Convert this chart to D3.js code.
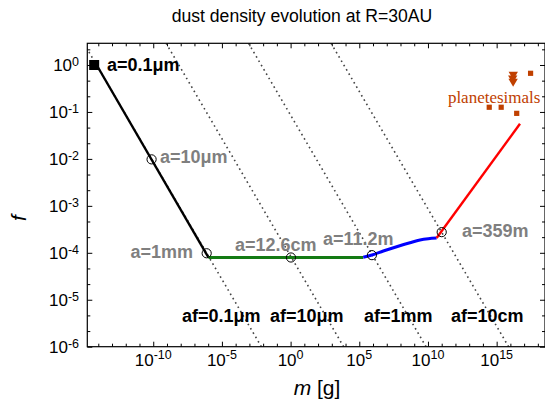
<!DOCTYPE html>
<html><head><meta charset="utf-8">
<script src="https://cdn.jsdelivr.net/npm/d3@7"></script>
<style>body{margin:0;background:#fff} svg{display:block} text{font-family:"Liberation Sans",Arial,Helvetica,sans-serif}</style>
</head><body><svg id="c" width="545" height="409"></svg>
<script>
// ---------- data (log10 values) ----------
const titleText = "dust density evolution at R=30AU";
const xTickExps = [-10, -5, 0, 5, 10, 15];
const yTickExps = [0, -1, -2, -3, -4, -5, -6];
const blackLogM = [-14.12, -5.98];
const blackLogF = [0, -4.10];
const greenLogM = [-5.98, 5.29];
const greenLogF = [-4.10, -4.10];
const blueLogM = [5.29, 5.92, 6.75, 7.72, 8.69, 9.42, 10.02, 10.63];
const blueLogF = [-4.096, -4.047, -3.962, -3.870, -3.785, -3.727, -3.700, -3.685];
const redLogM = [10.63, 16.70];
const redLogF = [-3.685, -1.252];
const startLogM = -14.30, startLogF = 0;
const circleLogM = [-10.12, -6.11, 0.025, 5.92, 11.0];
const circleLogF = [-2.01, -4.01, -4.10, -4.05, -3.56];
const afLogMTop = [-15.05, -9.06, -3.06, 2.95];
const afLogMBottom = [-2.13, 3.86, 9.86, 15.87];
const afLogFTop = 0.462, afLogFBottom = -6;
const planSqLogM = [17.47, 14.46, 15.33, 16.46];
const planSqLogF = [-0.177, -0.90, -0.90, -1.03];
const planTriLogM = [16.21, 16.17, 16.20];
const planTriLogF = [-0.20, -0.28, -0.35];
// labels: text, logM, logF, anchor, colour
const labelText = ["a=0.1μm", "a=10μm", "a=1mm", "a=12.6cm", "a=11.2m", "a=359m", "af=0.1μm", "af=10μm", "af=1mm", "af=10cm"];
const labelLogM = [-13.37, -9.51, -7.11, -4.05, 2.35, 12.47, -7.91, -1.50, 5.34, 11.67];
const labelLogF = [-0.128, -2.087, -4.11, -3.96, -3.83, -3.66, -5.47, -5.47, -5.47, -5.47];
const labelAnchor = ["start", "start", "end", "start", "start", "start", "start", "start", "start", "start"];
const labelColor = ["#000", "#7f7f7f", "#7f7f7f", "#7f7f7f", "#7f7f7f", "#7f7f7f", "#000", "#000", "#000", "#000"];
const planLabel = "planetesimals", planLabelLogM = 11.45, planLabelLogF = -0.81;

// ---------- layout ----------
const L = 87.3, R = 545, T = 43.3, B = 346.7;
const svg = d3.select("#c");
const x = d3.scaleLog().domain([Math.pow(10, -14.8), Math.pow(10, 18.52)]).range([L, R]);
const y = d3.scaleLog().domain([1e-6, Math.pow(10, 0.462)]).range([B, T]);
const P = v => Math.pow(10, v);

svg.append("defs").append("clipPath").attr("id", "clip")
  .append("rect").attr("x", L).attr("y", T).attr("width", R - L).attr("height", B - T);

// title
svg.append("text").attr("x", 302).attr("y", 22).attr("text-anchor", "middle")
  .attr("font-size", 17.6).text(titleText);

// ticks via d3 axes
const xMajor = xTickExps.map(P);
const xMinor = d3.range(-14, 19).filter(e => !xTickExps.includes(e)).map(P);
const yMajor = yTickExps.map(P);
const yMinor = [];
yTickExps.forEach(e => { [1/3, 2/3].forEach(f => { if (e + f <= 0.462 && e + f >= -6) yMinor.push(P(e + f)); }); });

function tickAxis(axisFn, scale, vals, size, tr) {
  const g = svg.append("g").attr("transform", tr)
    .call(axisFn(scale).tickValues(vals).tickSize(size).tickFormat(""));
  g.select(".domain").remove();
  g.selectAll("line").attr("stroke", "#000").attr("stroke-width", 1);
}
tickAxis(d3.axisTop, x, xMajor, 5, `translate(0,${B})`);
tickAxis(d3.axisTop, x, xMinor, 3, `translate(0,${B})`);
tickAxis(d3.axisBottom, x, xMajor, 5, `translate(0,${T})`);
tickAxis(d3.axisBottom, x, xMinor, 3, `translate(0,${T})`);
tickAxis(d3.axisRight, y, yMajor, 5, `translate(${L},0)`);
tickAxis(d3.axisRight, y, yMinor, 3, `translate(${L},0)`);
tickAxis(d3.axisLeft, y, yMajor, 5, `translate(${R},0)`);
tickAxis(d3.axisLeft, y, yMinor, 3, `translate(${R},0)`);

// x tick labels
xTickExps.forEach(e => {
  const t = svg.append("text").attr("x", x(P(e))).attr("y", 366).attr("text-anchor", "middle").attr("font-size", 17);
  t.append("tspan").text("10");
  t.append("tspan").attr("font-size", 12.5).attr("dy", -7).text(String(e));
});
// y tick labels
yTickExps.forEach(e => {
  const t = svg.append("text").attr("x", 79).attr("y", y(P(e)) + 5.8).attr("text-anchor", "end").attr("font-size", 17);
  t.append("tspan").text("10");
  t.append("tspan").attr("font-size", 12.5).attr("dy", -4.5).text(String(e));
});

// axis titles
const xl = svg.append("text").attr("x", 317).attr("y", 395).attr("text-anchor", "middle").attr("font-size", 21);
xl.append("tspan").attr("font-style", "italic").text("m");
xl.append("tspan").text(" [g]");
svg.append("text").attr("transform", "translate(26,218) rotate(-90)").attr("text-anchor", "middle")
  .attr("font-size", 21).attr("font-style", "italic").text("f");

// plot content
const gp = svg.append("g").attr("clip-path", "url(#clip)");
const line = d3.line().x(d => x(P(d[0]))).y(d => y(P(d[1])));

// dotted reference lines
afLogMTop.forEach((mt, i) => {
  gp.append("path").attr("d", line([[mt, afLogFTop], [afLogMBottom[i], afLogFBottom]]))
    .attr("fill", "none").attr("stroke", "#444").attr("stroke-width", 1.6)
    .attr("stroke-dasharray", "1.6,3.4");
});

const seg = (ms, fs, col, w) => gp.append("path").attr("d", line(ms.map((m, i) => [m, fs[i]])))
  .attr("fill", "none").attr("stroke", col).attr("stroke-width", w).attr("stroke-linejoin", "round");
seg(blackLogM, blackLogF, "#000", 2.4);
seg(greenLogM, greenLogF, "#137a13", 3);
gp.append("path").attr("d", d3.line().curve(d3.curveMonotoneX).x(d => x(P(d[0]))).y(d => y(P(d[1])))(blueLogM.map((m, i) => [m, blueLogF[i]])))
  .attr("fill", "none").attr("stroke", "#0000ff").attr("stroke-width", 3);
seg(redLogM, redLogF, "#ff0000", 2.4);

// circles
circleLogM.forEach((m, i) => {
  gp.append("circle").attr("cx", x(P(m))).attr("cy", y(P(circleLogF[i]))).attr("r", 4.6)
    .attr("fill", "none").attr("stroke", "#000").attr("stroke-width", 1);
});
// start square
svg.append("rect").attr("x", x(P(startLogM)) - 5).attr("y", y(P(startLogF)) - 5).attr("width", 10).attr("height", 10).attr("fill", "#000");

// planetesimals
const pc = "#c04000";
planSqLogM.forEach((m, i) => {
  svg.append("rect").attr("x", x(P(m)) - 2.6).attr("y", y(P(planSqLogF[i])) - 2.6).attr("width", 5.2).attr("height", 5.2).attr("fill", pc);
});
planTriLogM.forEach((m, i) => {
  const cx = x(P(m)), cy = y(P(planTriLogF[i]));
  svg.append("path").attr("d", d3.symbol().type(d3.symbolTriangle).size(38)()).attr("transform", `translate(${cx},${cy}) rotate(180)`).attr("fill", pc);
});
svg.append("text").attr("x", x(P(planLabelLogM))).attr("y", y(P(planLabelLogF)))
  .attr("font-size", 17).attr("fill", pc)
  .style("font-family", "'Liberation Serif','Times New Roman',serif").text(planLabel);

// labels
labelText.forEach((t, i) => {
  svg.append("text").attr("x", x(P(labelLogM[i]))).attr("y", y(P(labelLogF[i])))
    .attr("text-anchor", labelAnchor[i]).attr("font-size", 18).attr("font-weight", "bold")
    .attr("fill", labelColor[i]).text(t);
});

// frame
svg.append("rect").attr("x", L).attr("y", T).attr("width", R - L).attr("height", B - T)
  .attr("fill", "none").attr("stroke", "#000").attr("stroke-width", 1.2);
</script></body></html>
